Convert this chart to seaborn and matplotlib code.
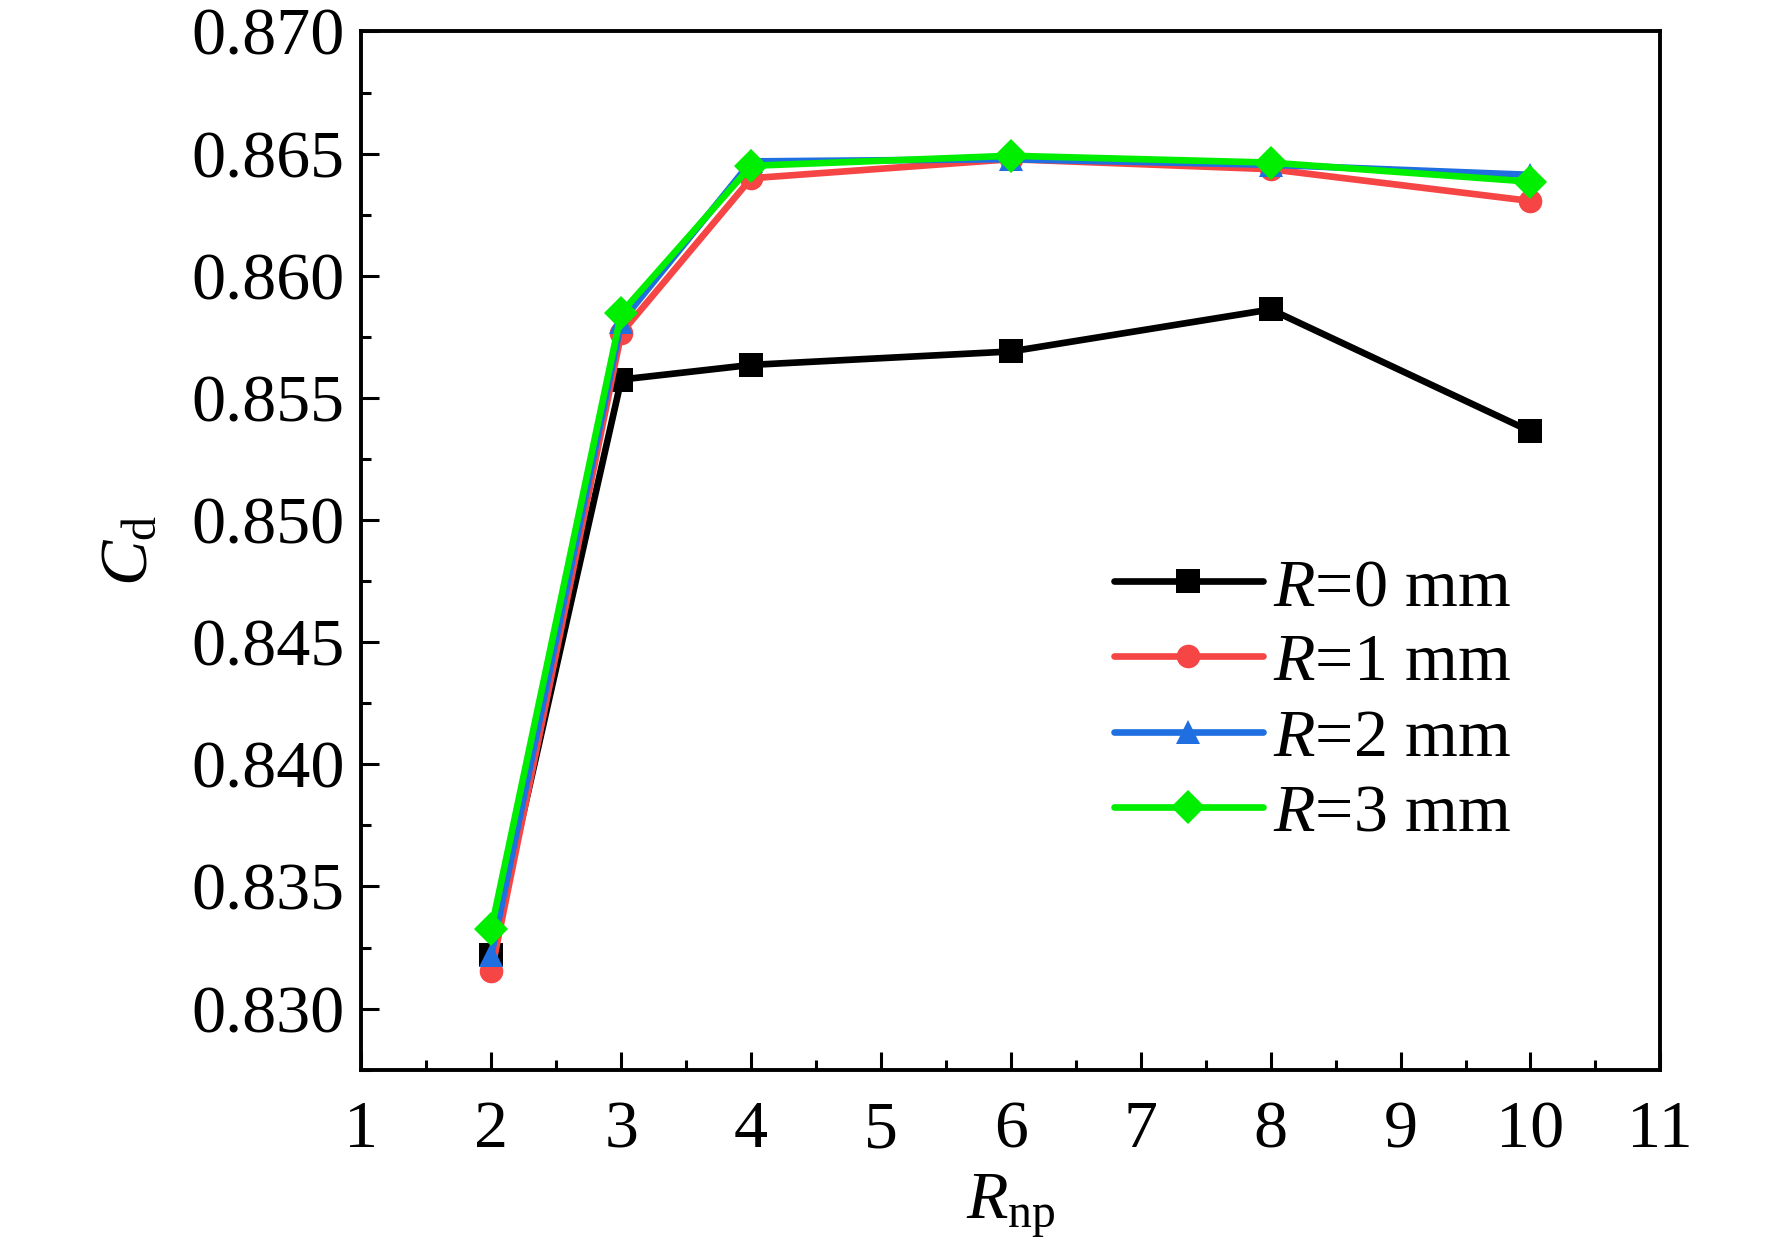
import pandas as pd
import seaborn as sns
import matplotlib
matplotlib.use('Agg')
import matplotlib.pyplot as plt
from matplotlib.ticker import MultipleLocator, FormatStrFormatter

# data
r_np = [2, 3, 4, 6, 8, 10]
cd_r0 = [0.8322, 0.85575, 0.85635, 0.85690, 0.85862, 0.85363]
cd_r1 = [0.83152, 0.85765, 0.86399, 0.86477, 0.86436, 0.86306]
cd_r2 = [0.83220, 0.85811, 0.86468, 0.86477, 0.86454, 0.86413]
cd_r3 = [0.83327, 0.85848, 0.86450, 0.86491, 0.86463, 0.86385]
labels = ["$R$=0 mm", "$R$=1 mm", "$R$=2 mm", "$R$=3 mm"]

rows = []
for lab, vals in zip(labels, [cd_r0, cd_r1, cd_r2, cd_r3]):
    for x, y in zip(r_np, vals):
        rows.append({"Rnp": x, "Cd": y, "series": lab})
df = pd.DataFrame(rows)

sns.set_style("ticks")
plt.rcParams['font.family'] = ['Liberation Serif', 'DejaVu Serif']
plt.rcParams['mathtext.fontset'] = 'custom'
plt.rcParams['mathtext.rm'] = 'Liberation Serif'
plt.rcParams['mathtext.it'] = 'Liberation Serif:italic'
for key in ['text.color', 'axes.labelcolor', 'xtick.color', 'ytick.color',
            'axes.edgecolor']:
    plt.rcParams[key] = 'black'

palette = {labels[0]: "#000000", labels[1]: "#f54545",
           labels[2]: "#1f6fe0", labels[3]: "#00ee00"}
markers = {labels[0]: "s", labels[1]: "o", labels[2]: "^", labels[3]: "D"}

fig, ax = plt.subplots(figsize=(17.72, 12.57), dpi=100)
fig.subplots_adjust(left=0.204, right=0.937, bottom=0.149, top=0.975)

sns.lineplot(data=df, x="Rnp", y="Cd", hue="series", style="series",
             palette=palette, markers=markers, dashes=False,
             linewidth=4.8, markersize=17, markeredgewidth=0, ax=ax)

ax.set_xlim(1, 11)
ax.set_ylim(0.8275, 0.870)
ax.xaxis.set_major_locator(MultipleLocator(1))
ax.xaxis.set_minor_locator(MultipleLocator(0.5))
ax.yaxis.set_major_locator(MultipleLocator(0.005))
ax.yaxis.set_minor_locator(MultipleLocator(0.0025))
ax.yaxis.set_major_formatter(FormatStrFormatter('%.3f'))

ax.tick_params(which='both', direction='in', top=False, right=False,
               labelsize=49, width=2.2, pad=12)
ax.tick_params(axis='x', which='major', pad=22)
ax.tick_params(which='major', length=13)
ax.tick_params(which='minor', length=7)
for sp in ax.spines.values():
    sp.set_linewidth(2.8)
    sp.set_visible(True)

ax.set_xlabel("$R_\\mathrm{np}$", fontsize=49, labelpad=8)
ax.set_ylabel("$C_\\mathrm{d}$", fontsize=49, labelpad=22)

leg = ax.legend(loc='center left', bbox_to_anchor=(0.579, 0.355),
                frameon=False, fontsize=49, handlelength=2.2,
                handletextpad=0.15, labelspacing=0.2, borderpad=0,
                borderaxespad=0)

plt.savefig("out.png", dpi=100)
